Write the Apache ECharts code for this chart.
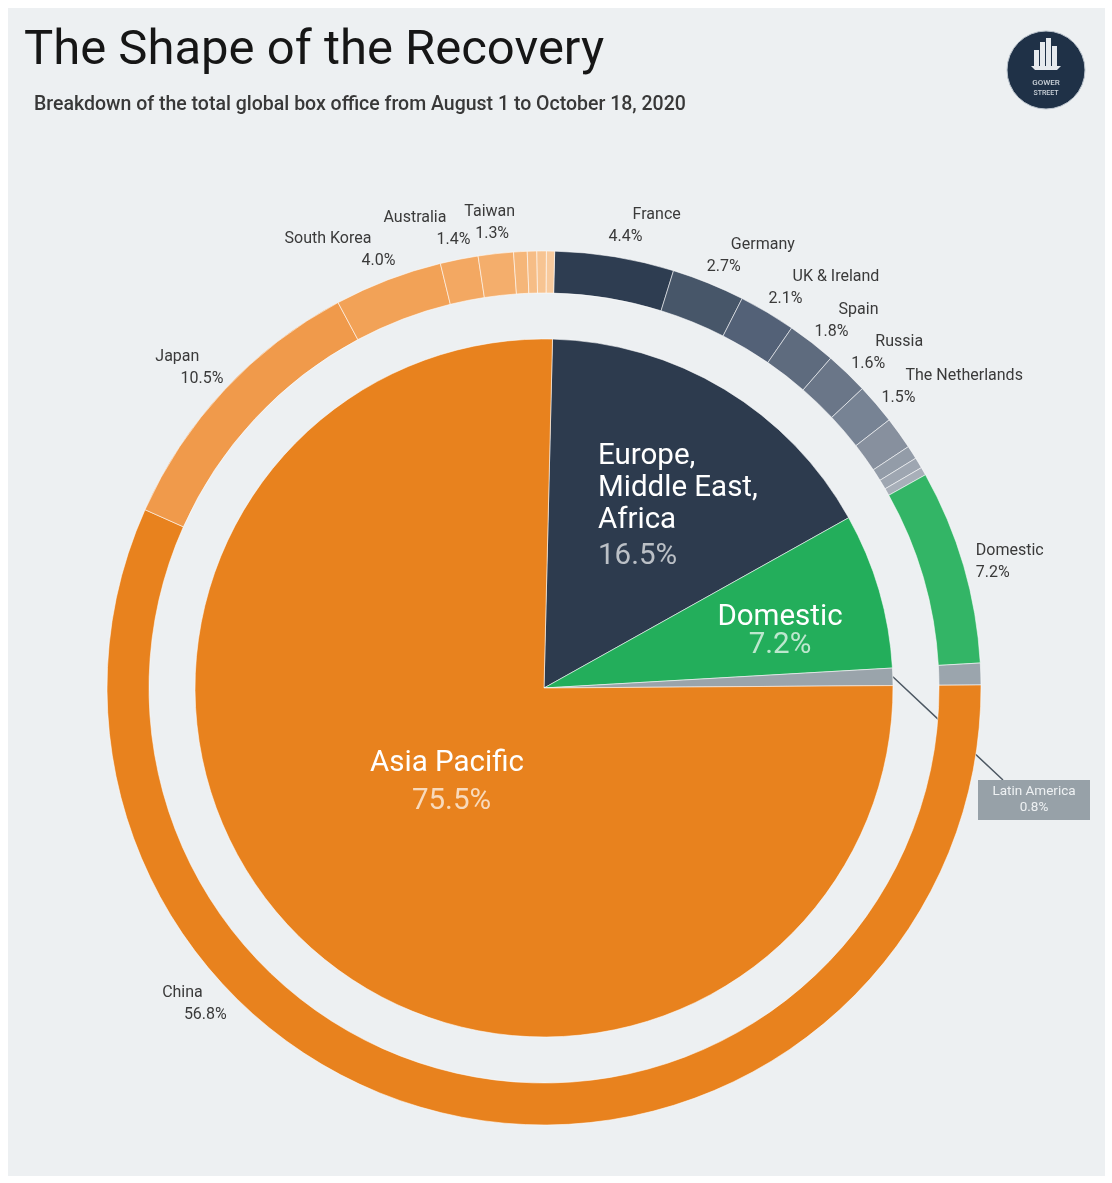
<!DOCTYPE html>
<html><head><meta charset="utf-8">
<script src="https://cdn.jsdelivr.net/npm/echarts@6/dist/echarts.min.js"></script>
<style>
html,body{margin:0;padding:0;background:#fff;}
#bg{position:absolute;left:8px;top:8px;width:1097px;height:1168px;background:#edf0f2;}
#chart{position:absolute;left:0;top:0;width:1112px;height:1183px;}
</style></head><body><div id="bg"></div><div id="chart"></div>
<script>
// ---- data ----
const regions = ['Europe, Middle East, Africa', 'Domestic', 'Latin America', 'Asia Pacific'];
const regionValues = [16.5, 7.2, 0.8, 75.5];
const countries = ['France', 'Germany', 'UK & Ireland', 'Spain', 'Russia', 'The Netherlands', '', '', '', '',
  'Domestic', 'Latin America', 'China', 'Japan', 'South Korea', 'Australia', 'Taiwan', '', '', '', ''];
const countryValues = [4.4, 2.7, 2.1, 1.8, 1.6, 1.5, 1.2, 0.5, 0.4, 0.3,
  7.2, 0.8, 56.8, 10.5, 4.0, 1.4, 1.3, 0.5, 0.35, 0.35, 0.3];
const titleText = 'The Shape of the Recovery';
const subtitleText = 'Breakdown of the total global box office from August 1 to October 18, 2020';

// ---- styles / layout ----
const innerColors = ['#2d3b4e', '#23ae5b', '#9aa4ab', '#e8821e'];
const outerColors = ['#2e3d51', '#475669', '#536177', '#5e6b7e', '#6a7688', '#778394', '#87909e', '#939ca8', '#9ea6b1', '#a8afb9',
  '#33b566', '#9ba5ad', '#e8821e', '#f09a4b', '#f2a257', '#f3a862', '#f4ae6c', '#f5b679', '#f6bd86', '#f7c492', '#f8ca9d'];
const CX = 544, CY = 688, R_IN = 349, R_O0 = 395, R_O1 = 437, START = 88.6;
const FONT = 'Roboto';

function midTheta(values, i) {
  const total = values.reduce((a, b) => a + b, 0);
  let cum = 0;
  for (let k = 0; k < i; k++) cum += values[k];
  return (90 - START) + 360 * (cum + values[i] / 2) / total;
}

const chart = echarts.init(document.getElementById('chart'), null, {renderer: 'canvas'});

const innerData = regions.map((n, i) => {
  const d = {name: n, value: regionValues[i], itemStyle: {color: innerColors[i]}};
  if (n === 'Latin America') {
    d.label = {position: 'outside', backgroundColor: '#97a1a8', padding: [4, 6, 4, 6]};
    d.labelLine = {show: true, length2: 0, lineStyle: {color: '#4d5863', width: 1.5}};
  } else {
    d.label = {position: 'inside'};
  }
  return d;
});

const outerData = countries.map((n, i) => ({
  name: n, value: countryValues[i], itemStyle: {color: outerColors[i]},
  label: {show: n !== '' && n !== 'Latin America'}
}));

const lbl = {fontFamily: FONT, fontSize: 16, lineHeight: 22, color: '#3a3a3a'};

const option = {
  animation: false,
  backgroundColor: 'transparent',
  title: [
    {text: titleText, left: 19, top: 22, textStyle: {fontFamily: FONT, fontSize: 49, fontWeight: 400, color: '#161616'}},
    {text: subtitleText, left: 29, top: 90, textStyle: {fontFamily: FONT, fontSize: 19.5, fontWeight: 500, color: '#383838'}}
  ],
  graphic: [
    {type: 'circle', shape: {cx: 1046, cy: 70, r: 39}, style: {fill: '#1f3147', stroke: '#b9c2cb', lineWidth: 1}},
    {type: 'rect', shape: {x: 1034, y: 50, width: 5, height: 16}, style: {fill: '#e6eaee'}},
    {type: 'rect', shape: {x: 1040, y: 42, width: 5, height: 24}, style: {fill: '#e6eaee'}},
    {type: 'rect', shape: {x: 1046, y: 38, width: 5, height: 28}, style: {fill: '#e6eaee'}},
    {type: 'rect', shape: {x: 1052, y: 46, width: 5, height: 20}, style: {fill: '#e6eaee'}},
    {type: 'polygon', shape: {points: [[1031, 66], [1061, 66], [1057, 70], [1035, 70]]}, style: {fill: '#e6eaee'}},
    {type: 'text', style: {text: 'GOWER', x: 1046, y: 79, textAlign: 'center', fill: '#cdd4db', font: '500 8px Roboto'}},
    {type: 'text', style: {text: 'STREET', x: 1046, y: 90, textAlign: 'center', fill: '#cdd4db', font: '500 7px Roboto'}}
  ],
  series: [
    {
      type: 'pie', name: 'Regions',
      center: [CX, CY], radius: [0, R_IN], startAngle: START, clockwise: true,
      avoidLabelOverlap: false, silent: true,
      itemStyle: {borderColor: 'rgba(255,255,255,0.55)', borderWidth: 1},
      labelLine: {show: false},
      label: {
        show: true,
        formatter: function (p) {
          const pct = p.value.toFixed(1) + '%';
          if (p.dataIndex === 0) return p.name.split(', ').map((s, k, a) => '{w|' + s + (k < a.length - 1 ? ',' : '') + '}').join('\n') + '\n{q|' + pct + '}';
          if (p.dataIndex === 1) return '{w2|' + p.name + '}\n{q2|' + pct + '}';
          if (p.dataIndex === 3) return '{w3|' + p.name + '}\n{q3|' + pct + '}';
          return '{l|' + p.name + '}\n{l|' + pct + '}';
        },
        rich: {
          w: {fontFamily: FONT, fontSize: 29.5, lineHeight: 32, color: '#ffffff'},
          q: {fontFamily: FONT, fontSize: 29.5, lineHeight: 40, color: 'rgba(255,255,255,0.68)'},
          w2: {fontFamily: FONT, fontSize: 29.5, lineHeight: 28, color: '#ffffff'},
          q2: {fontFamily: FONT, fontSize: 29.5, lineHeight: 28, color: 'rgba(255,255,255,0.7)'},
          w3: {fontFamily: FONT, fontSize: 29.5, lineHeight: 38, color: '#ffffff'},
          q3: {fontFamily: FONT, fontSize: 29.5, lineHeight: 38, color: 'rgba(255,255,255,0.7)', padding: [0, 0, 0, 9]},
          l: {fontFamily: FONT, fontSize: 13.5, lineHeight: 16, color: '#eef1f3', width: 100, align: 'center'}
        }
      },
      labelLayout: function (p) {
        const i = p.dataIndex;
        if (i === 0) return {x: CX + 54, y: CY - 247, align: 'left', verticalAlign: 'top'};
        if (i === 1) return {x: CX + 236, y: CY - 84, align: 'center', verticalAlign: 'top'};
        if (i === 3) return {x: CX - 97, y: CY + 57, align: 'center', verticalAlign: 'top'};
        const th = midTheta(regionValues, i) * Math.PI / 180;
        const sx = CX + R_IN * Math.sin(th), sy = CY - R_IN * Math.cos(th);
        const bx = CX + 490, by = CY + 112;
        const ex = bx - 31, ey = by - 20;
        return {x: bx, y: by, align: 'center', verticalAlign: 'middle',
          labelLinePoints: [[sx, sy], [(sx + ex) / 2, (sy + ey) / 2], [ex, ey]]};
      },
      data: innerData
    },
    {
      type: 'pie', name: 'Markets',
      center: [CX, CY], radius: [R_O0, R_O1], startAngle: START, clockwise: true,
      avoidLabelOverlap: false, silent: true,
      itemStyle: {borderColor: 'rgba(255,255,255,0.55)', borderWidth: 1},
      labelLine: {show: false},
      label: {
        show: true, position: 'outside',
        formatter: function (p) {
          const pct = p.value.toFixed(1) + '%';
          const right = midTheta(countryValues, p.dataIndex) < 180;
          if (p.name === 'Domestic') return '{n0|' + p.name + '}\n{p|' + pct + '}';
          if (p.name === 'Taiwan') return '{n0|' + p.name + '}\n{pt|' + pct + '}';
          return (right ? '{nr|' : '{nl|') + p.name + '}\n{p|' + pct + '}';
        },
        rich: {
          n0: lbl,
          nr: Object.assign({padding: [0, 0, 0, 24]}, lbl),
          nl: Object.assign({padding: [0, 24, 0, 0]}, lbl),
          p: lbl,
          pt: Object.assign({padding: [0, 6, 0, 0]}, lbl)
        }
      },
      labelLayout: function (p) {
        const name = countries[p.dataIndex];
        let th = midTheta(countryValues, p.dataIndex);
        let r = 461;
        const right = th < 180;
        if (right) th += 1;
        if (name === 'China') { th = 225.9; r = 464; }
        if (name === 'Japan') { th = 312.5; r = 462; }
        const rad = th * Math.PI / 180;
        const ax = CX + r * Math.sin(rad), ay = CY - r * Math.cos(rad);
        if (name === 'Domestic') return {x: ax - 13, y: ay - 5, align: 'left', verticalAlign: 'middle'};
        if (name === 'Taiwan') return {x: ax + 22, y: ay - 7, align: 'right', verticalAlign: 'middle'};
        if (name === 'Japan') return {x: ax + 20, y: ay - 8, align: 'right', verticalAlign: 'middle'};
        return right
          ? {x: ax - 18, y: ay - 8, align: 'left', verticalAlign: 'middle'}
          : {x: ax + 16, y: ay - 7, align: 'right', verticalAlign: 'middle'};
      },
      data: outerData
    }
  ]
};
chart.setOption(option);
</script>
</body></html>
